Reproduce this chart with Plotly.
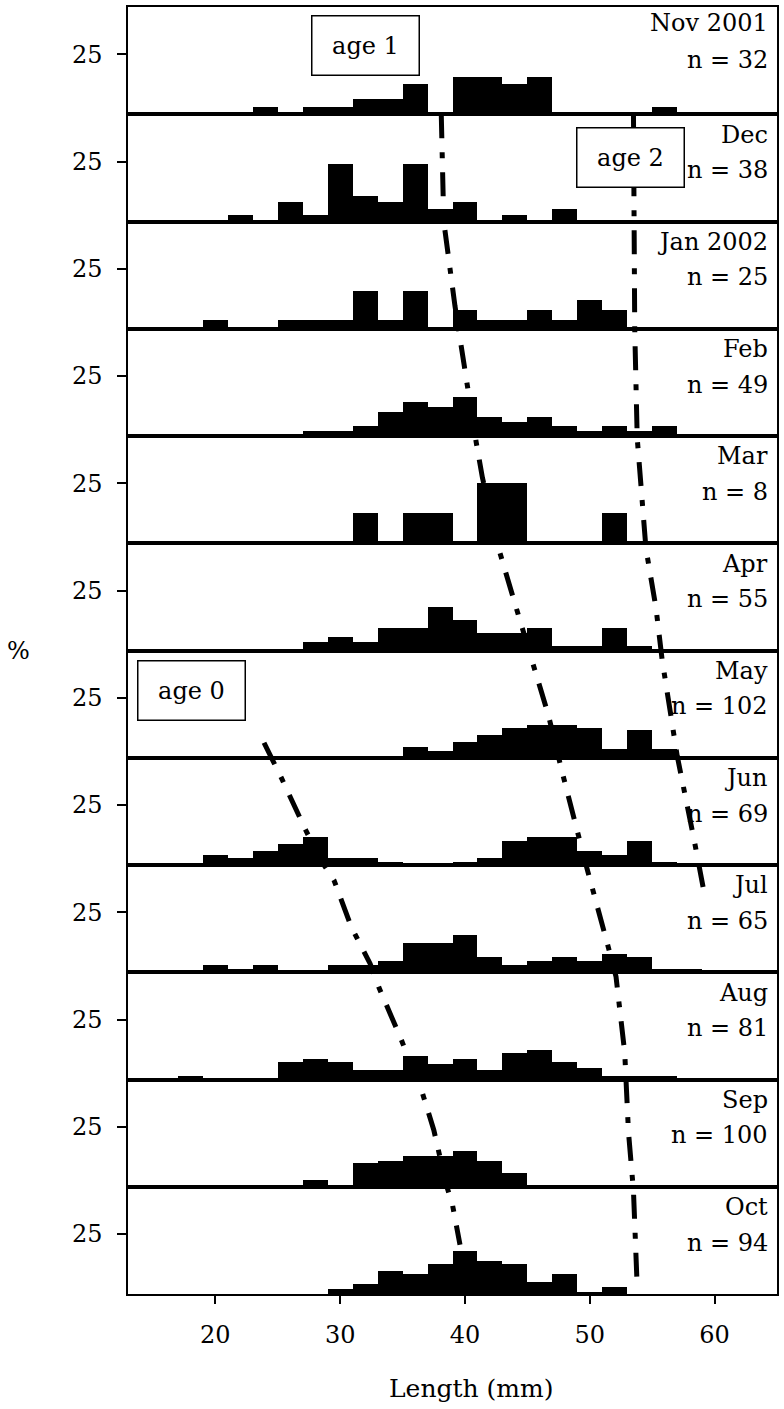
import plotly.graph_objects as go
from plotly.subplots import make_subplots

# ---------------- data ----------------
bin_centres = [14, 16, 18, 20, 22, 24, 26, 28, 30, 32, 34, 36, 38, 40, 42, 44, 46,
               48, 50, 52, 54, 56, 58, 60, 62, 64]

months = ["Nov 2001", "Dec", "Jan 2002", "Feb", "Mar", "Apr", "May", "Jun",
          "Jul", "Aug", "Sep", "Oct"]
sample_sizes = [32, 38, 25, 49, 8, 55, 102, 69, 65, 81, 100, 94]

pct_nov = [0, 0, 0, 0, 0, 3.1, 0, 3.1, 3.1, 6.3, 6.3, 12.5, 0, 15.6, 15.6, 12.5, 15.6, 0, 0, 0, 0, 3.1, 0, 0, 0, 0]
pct_dec = [0, 0, 0, 0, 2.6, 0, 7.9, 2.6, 23.7, 10.5, 7.9, 23.7, 5.3, 7.9, 0, 2.6, 0, 5.3, 0, 0, 0, 0, 0, 0, 0, 0]
pct_jan = [0, 0, 0, 4, 0, 0, 4, 4, 4, 16, 4, 16, 0, 8, 4, 4, 8, 4, 12, 8, 0, 0, 0, 0, 0, 0]
pct_feb = [0, 0, 0, 0, 0, 0, 0, 2.0, 2.0, 4.1, 10.2, 14.3, 12.2, 16.3, 8.2, 6.1, 8.2, 4.1, 2.0, 4.1, 2.0, 4.1, 0, 0, 0, 0]
pct_mar = [0, 0, 0, 0, 0, 0, 0, 0, 0, 12.5, 0, 12.5, 12.5, 0, 25, 25, 0, 0, 0, 12.5, 0, 0, 0, 0, 0, 0]
pct_apr = [0, 0, 0, 0, 0, 0, 0, 3.6, 5.5, 3.6, 9.1, 9.1, 18.2, 12.7, 7.3, 7.3, 9.1, 1.8, 1.8, 9.1, 1.8, 0, 0, 0, 0, 0]
pct_may = [0, 0, 0, 0, 0, 0, 0, 0, 0, 1.0, 0, 4.9, 2.9, 6.9, 9.8, 12.7, 13.7, 13.7, 12.7, 3.9, 11.8, 3.9, 1.0, 0, 1.0, 0]
pct_jun = [0, 0, 0, 4.3, 2.9, 5.8, 8.7, 11.6, 2.9, 2.9, 1.4, 0, 0, 1.4, 2.9, 10.1, 11.6, 11.6, 5.8, 4.3, 10.1, 1.4, 0, 0, 0, 0]
pct_jul = [0, 0, 0, 3.1, 1.5, 3.1, 0, 0, 3.1, 3.1, 4.6, 12.3, 12.3, 15.4, 6.2, 3.1, 4.6, 6.2, 4.6, 7.7, 6.2, 1.5, 1.5, 0, 0, 0]
pct_aug = [0, 0, 1.2, 0, 0, 0, 7.4, 8.6, 7.4, 3.7, 3.7, 9.9, 6.2, 8.6, 3.7, 11.1, 12.3, 7.4, 4.9, 1.2, 1.2, 1.2, 0, 0, 0, 0]
pct_sep = [0, 0, 0, 0, 1, 1, 0, 3, 1, 10, 11, 13, 13, 15, 11, 6, 0.5, 1, 0, 0.5, 0, 0, 0, 0, 0, 0]
pct_oct = [0, 0, 0, 0, 0, 0, 0, 0, 2.1, 4.3, 9.6, 8.5, 12.8, 18.1, 13.8, 12.8, 5.3, 8.5, 1.1, 3.2, 0, 0, 0, 0, 0, 0]

monthly_pct = [pct_nov, pct_dec, pct_jan, pct_feb, pct_mar, pct_apr,
               pct_may, pct_jun, pct_jul, pct_aug, pct_sep, pct_oct]

# cohort tracking lines: length (mm) vs. position down the panel stack (0 = top, 12 = bottom)
age0_len = [23.9, 25.3, 27.3, 28.7, 29.5, 30.9, 32.4, 33.1, 34.9, 36.6, 37.5, 38.5, 39.0, 39.6]
age0_pos = [6.86, 7.19, 7.69, 8.00, 8.14, 8.58, 8.92, 9.14, 9.63, 10.13, 10.47, 10.98, 11.17, 11.54]
age1_len = [38.1, 38.3, 39.2, 40.1, 40.9, 41.4, 42.7, 44.1, 45.4, 46.7, 47.8, 48.9, 49.7,
            51.4, 52.1, 52.8, 52.9, 53.1, 53.5, 53.8]
age1_pos = [1.0, 2.0, 2.79, 3.5, 4.06, 4.39, 5.05, 5.6, 6.1, 6.61, 7.14, 7.66, 8.0,
            8.73, 9.04, 9.75, 10.1, 10.49, 11.04, 11.94]
age2_len = [53.5, 53.5, 53.6, 53.8, 54.5, 55.3, 55.8, 57.0, 57.5, 58.4, 59.2]
age2_pos = [1.0, 2.0, 3.0, 4.02, 5.05, 5.6, 6.09, 6.98, 7.26, 7.79, 8.28]

x_ticks = [20, 30, 40, 50, 60]

# ---------------- figure ----------------
FONT = "DejaVu Serif"
X_RANGE = [13, 65]
Y_MAX = 44.75
N = len(months)

fig = make_subplots(rows=N, cols=1, shared_xaxes=True, vertical_spacing=0)

for i, vals in enumerate(monthly_pct):
    fig.add_trace(go.Bar(x=bin_centres, y=vals, width=2,
                         marker=dict(color="black", line=dict(width=0)),
                         showlegend=False, hoverinfo="skip"),
                  row=i + 1, col=1)
    fig.update_yaxes(range=[0, Y_MAX], tickvals=[25], ticktext=["25"],
                     ticks="outside", ticklen=9, tickwidth=1.5, tickcolor="black",
                     showline=True, linecolor="black", linewidth=1.5, mirror=True,
                     showgrid=False, zeroline=False, ticklabelstandoff=10,
                     tickfont=dict(family=FONT, size=24, color="black"),
                     row=i + 1, col=1)
    last = (i == N - 1)
    fig.update_xaxes(range=X_RANGE, showline=True, linecolor="black", linewidth=1.5,
                     mirror=True, showgrid=False, zeroline=False,
                     tickvals=x_ticks, ticks="outside" if last else "",
                     ticklen=8, tickwidth=1.5, tickcolor="black",
                     showticklabels=last, ticklabelstandoff=10,
                     tickfont=dict(family=FONT, size=24, color="black"),
                     row=i + 1, col=1)

# overlay axes spanning the whole panel stack for the cohort lines
line_style = dict(color="black", width=5, dash="24px,14px,6px,14px")
for lx, ly in [(age0_len, age0_pos), (age1_len, age1_pos), (age2_len, age2_pos)]:
    fig.add_trace(go.Scatter(x=lx, y=ly, mode="lines", line=line_style,
                             xaxis="x13", yaxis="y13", showlegend=False,
                             hoverinfo="skip"))

fig.update_layout(
    xaxis13=dict(domain=[0, 1], range=X_RANGE, visible=False, anchor="y13"),
    yaxis13=dict(domain=[0, 1], range=[N, 0], visible=False, anchor="x13"),
)

annotations = []
for i, (m, n) in enumerate(zip(months, sample_sizes)):
    off1, off2 = (0.15, 0.49) if i == 0 else (0.19, 0.52)
    annotations.append(dict(text=m, xref="paper", x=1, xshift=-7, xanchor="right",
                            yref="y13", y=i + off1, yanchor="middle", showarrow=False,
                            font=dict(family=FONT, size=24, color="black")))
    annotations.append(dict(text=f"n = {n}", xref="paper", x=1, xshift=-7, xanchor="right",
                            yref="y13", y=i + off2, yanchor="middle", showarrow=False,
                            font=dict(family=FONT, size=24, color="black")))

for label, bx, by in [("age 1", 32.0, 0.36), ("age 2", 53.3, 1.40), ("age 0", 18.1, 6.37)]:
    annotations.append(dict(text=label, xref="x13", yref="y13", x=bx, y=by,
                            showarrow=False, bgcolor="white", bordercolor="black",
                            borderwidth=1.5, borderpad=3, width=100, height=52,
                            font=dict(family=FONT, size=24, color="black")))

annotations.append(dict(text="%", xref="paper", yref="paper", x=0, y=0.5,
                        xshift=-110, xanchor="center", yanchor="middle", showarrow=False,
                        font=dict(family=FONT, size=24, color="black")))
annotations.append(dict(text="Length (mm)", xref="x13", yref="paper", x=40.5, y=0,
                        yshift=-94, xanchor="center", yanchor="middle", showarrow=False,
                        font=dict(family=FONT, size=25, color="black")))

fig.update_layout(
    width=784, height=1409,
    margin=dict(l=128, r=5, t=5, b=115),
    paper_bgcolor="white", plot_bgcolor="rgba(0,0,0,0)",
    bargap=0, showlegend=False,
    annotations=annotations,
)

fig.write_html("out.html")
